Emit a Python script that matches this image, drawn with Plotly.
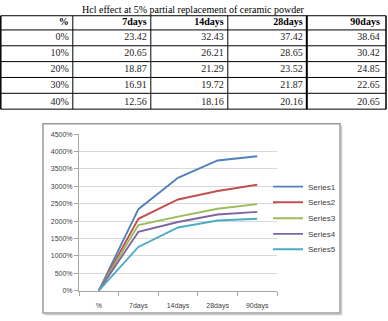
import plotly.graph_objects as go

# ---- data ----
title_text = "Hcl effect at 5% partial replacement of ceramic powder"
col_headers = ["%", "7days", "14days", "28days", "90days"]
row_labels = ["0%", "10%", "20%", "30%", "40%"]
d7 = [23.42, 20.65, 18.87, 16.91, 12.56]
d14 = [32.43, 26.21, 21.29, 19.72, 18.16]
d28 = [37.42, 28.65, 23.52, 21.87, 20.16]
d90 = [38.64, 30.42, 24.85, 22.65, 20.65]

categories = ["%", "7days", "14days", "28days", "90days"]
series_names = ["Series1", "Series2", "Series3", "Series4", "Series5"]
series_colors = ["#4F81BD", "#C0504D", "#9BBB59", "#8064A2", "#4BACC6"]

W, H = 388, 321

def px_x(x):
    return x / W

def px_y(y):
    return 1 - y / H

fig = go.Figure()

# ---- table (text by go.Table, grid drawn as shapes below) ----
col_w = [72, 78, 77, 79, 79.2]
hdr_h = 14.5
row_h = 16.2
tbl_top = 12.0
text_shift = 6.0
x_left, x_right = 0.8, 386.0
text_dx = 4.0  # plotly pads 8px; reference pads ~4px
fig.add_trace(go.Table(
    domain=dict(x=[px_x(x_left + text_dx), 1.0],
                y=[px_y(125), px_y(tbl_top - text_shift)]),
    columnwidth=[72, 78, 77, 79, 383.2 - 306],
    header=dict(
        values=col_headers,
        align="right",
        height=hdr_h,
        font=dict(family="Liberation Serif", size=10, color="black", weight="bold"),
        fill_color="rgba(0,0,0,0)",
        line=dict(color="rgba(0,0,0,0)", width=0),
    ),
    cells=dict(
        values=[row_labels,
                ["%.2f" % v for v in d7],
                ["%.2f" % v for v in d14],
                ["%.2f" % v for v in d28],
                ["%.2f" % v for v in d90]],
        align="right",
        height=row_h,
        font=dict(family="Liberation Serif", size=10, color="#222222"),
        fill_color="rgba(0,0,0,0)",
        line=dict(color="rgba(0,0,0,0)", width=0),
    ),
))

# table grid
n_rows = len(row_labels)
h_lines = [tbl_top, tbl_top + hdr_h] + [tbl_top + hdr_h + row_h * (i + 1) for i in range(n_rows)]
v_lines = [x_left]
acc = x_left
for w in col_w:
    acc += w
    v_lines.append(acc)
v_lines[-1] = x_right
tbl_bottom = h_lines[-1]
for yy in h_lines:
    fig.add_shape(type="line", xref="paper", yref="paper",
                  x0=px_x(x_left), x1=px_x(x_right), y0=px_y(yy), y1=px_y(yy),
                  line=dict(color="black", width=1))
for i, xx in enumerate(v_lines):
    wdt = 2 if i == 4 else (1.5 if i in (0, len(v_lines) - 1) else 1)
    fig.add_shape(type="line", xref="paper", yref="paper",
                  x0=px_x(xx), x1=px_x(xx), y0=px_y(tbl_top), y1=px_y(tbl_bottom),
                  line=dict(color="black", width=wdt))

# ---- chart lines ----
rows = list(zip(d7, d14, d28, d90))
legend_ids = ["legend", "legend2", "legend3", "legend4", "legend5"]
for name, color, r, lg in zip(series_names, series_colors, rows, legend_ids):
    fig.add_trace(go.Scatter(
        x=categories, y=[0] + list(r), name=name, mode="lines",
        line=dict(color=color, width=1.9), legend=lg,
    ))

# chart box
fig.add_shape(type="rect", xref="paper", yref="paper",
              x0=px_x(43), x1=px_x(340), y0=px_y(316), y1=px_y(122.5),
              line=dict(color="#9a9a9a", width=1.5), layer="below")
fig.add_shape(type="line", xref="paper", yref="paper",
              x0=px_x(341.5), x1=px_x(341.5), y0=px_y(317.5), y1=px_y(124),
              line=dict(color="#c8c8c8", width=1.5))
fig.add_shape(type="line", xref="paper", yref="paper",
              x0=px_x(44.5), x1=px_x(341.5), y0=px_y(317.5), y1=px_y(317.5),
              line=dict(color="#c8c8c8", width=1.5))

fig.add_annotation(text=title_text, xref="paper", yref="paper",
                   x=px_x(193), y=px_y(5.5), showarrow=False,
                   xanchor="center", yanchor="middle",
                   font=dict(family="Liberation Serif", size=10, color="black"))

axis_font = dict(family="Liberation Sans", size=7, color="#404040")
leg_font = dict(family="Liberation Sans", size=8, color="#404040")

legend_y = [186.7, 202.7, 219.0, 235.0, 250.7]
legends = {}
for lg, yy in zip(legend_ids, legend_y):
    legends[lg] = dict(x=px_x(268), y=px_y(yy), xanchor="left", yanchor="middle",
                       font=leg_font, bgcolor="rgba(0,0,0,0)",
                       itemwidth=30, borderwidth=0)

fig.update_layout(
    width=W, height=H, autosize=False,
    margin=dict(l=0, r=0, t=0, b=0),
    paper_bgcolor="white", plot_bgcolor="white",
    showlegend=True,
    xaxis=dict(domain=[px_x(79), px_x(277)], type="category",
               range=[-0.5, 4.5], showgrid=False,
               showline=True, linecolor="#a6a6a6", linewidth=1,
               ticks="outside", tickson="boundaries", ticklen=4,
               tickcolor="#a6a6a6", tickfont=axis_font, fixedrange=True,
               ticklabelstandoff=8),
    yaxis=dict(domain=[px_y(293), px_y(133)], range=[0, 45], dtick=5,
               tickformat=".0%", showgrid=True, gridcolor="#d9d9d9",
               gridwidth=1, zeroline=False,
               showline=True, linecolor="#a6a6a6", linewidth=1,
               ticks="outside", ticklen=4, tickcolor="#a6a6a6",
               tickfont=axis_font, fixedrange=True),
    **legends,
)

fig.write_html("out.html")
